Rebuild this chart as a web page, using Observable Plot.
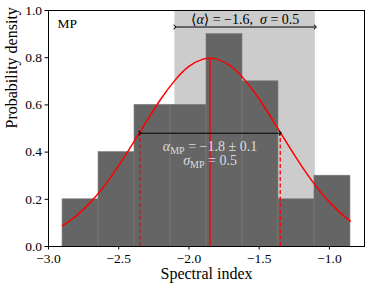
<!DOCTYPE html>
<html>
<head>
<meta charset="utf-8">
<script src="https://cdn.jsdelivr.net/npm/d3@7"></script>
<script src="https://cdn.jsdelivr.net/npm/@observablehq/plot@0.6"></script>
<style>
  html, body { margin: 0; padding: 0; background: white; }
  #chart svg { display: block; }
  #chart svg, #chart svg text, #chart svg tspan { font-family: "Liberation Serif", "DejaVu Serif", serif !important; }
</style>
</head>
<body>
<div id="chart"></div>
<script>
// Histogram bins (density)
const binEdges = [-2.9, -2.64375, -2.3875, -2.13125, -1.875, -1.61875, -1.3625, -1.10625, -0.85];
const binHeights = [0.2, 0.4, 0.6, 0.6, 0.9, 0.7, 0.2, 0.3];

// Shaded band: <alpha> = -1.6, sigma = 0.5
const bandLo = -2.1;
const bandHi = -1.1;

// Fitted Gaussian curve
const curveX = [-2.9, -2.8, -2.7, -2.6, -2.5, -2.4, -2.3, -2.2, -2.1, -2.0, -1.9, -1.85, -1.8, -1.7, -1.6, -1.5, -1.4, -1.3, -1.2, -1.1, -1.0, -0.9, -0.85];
const curveY = [0.088, 0.131, 0.188, 0.259, 0.343, 0.436, 0.532, 0.625, 0.704, 0.763, 0.794, 0.798, 0.794, 0.763, 0.704, 0.625, 0.532, 0.436, 0.343, 0.259, 0.188, 0.131, 0.108];

// Fit markers
const fitMean = -1.85;
const fitPeak = 0.798;
const fitSigmaX = [-2.35, -1.35];
const fitSigmaY = 0.484;

// Arrows
const topArrowY = 0.93;
const midArrowY = 0.48;

// Tick labels
const xTicks = [-3.0, -2.5, -2.0, -1.5, -1.0];
const yTicks = [0.0, 0.2, 0.4, 0.6, 0.8, 1.0];

// Annotation texts
const topLabel = "⟨α⟩ = −1.6,  σ = 0.5";
const fitLabel1 = "α_MP = −1.8 ± 0.1";
const fitLabel2 = "σ_MP = 0.5";
const panelLabel = "MP";

const bars = binHeights.map((h, i) => ({x1: binEdges[i], x2: binEdges[i + 1], y: h}));
const curve = curveX.map((x, i) => ({x, y: curveY[i]}));
const fmt = d => d.toFixed(1).replace("-", "−");

const plot = Plot.plot({
  width: 374,
  height: 289,
  marginLeft: 48,
  marginRight: 10,
  marginTop: 10,
  marginBottom: 43,
  style: {fontFamily: "'Liberation Serif', serif", fontSize: "13px", background: "white", color: "black"},
  x: {domain: [-3.0, -0.75]},
  y: {domain: [0, 1]},
  marks: [
    Plot.rect([{x1: bandLo, x2: bandHi}], {x1: "x1", x2: "x2", y1: 0, y2: 1, fill: "#cccccc"}),
    Plot.rect(bars, {x1: "x1", x2: "x2", y1: 0, y2: "y", fill: "#656565", stroke: "#7a7a7a", strokeWidth: 0.6}),
    Plot.line(curve, {x: "x", y: "y", stroke: "#ff0000", strokeWidth: 1.5, curve: "natural"}),
    Plot.ruleX([fitMean], {y1: 0, y2: fitPeak, stroke: "#ff0000", strokeWidth: 1.3}),
    Plot.ruleX(fitSigmaX, {y1: 0, y2: fitSigmaY, stroke: "#ff0000", strokeWidth: 1.3, strokeDasharray: "4,2.5"}),
    Plot.link([{x1: bandLo, x2: bandHi, y: topArrowY}], {x1: "x1", x2: "x2", y1: "y", y2: "y", stroke: "black", strokeWidth: 1, markerStart: "arrow", markerEnd: "arrow"}),
    Plot.link([{x1: fitSigmaX[0], x2: fitSigmaX[1], y: midArrowY}], {x1: "x1", x2: "x2", y1: "y", y2: "y", stroke: "black", strokeWidth: 1, markerStart: "arrow", markerEnd: "arrow"}),
    Plot.text([topLabel], {x: -1.6, y: 0.962, text: d => d, fontSize: 14, fill: "black", textAnchor: "middle", lineAnchor: "middle"}),
    Plot.text([fitLabel1], {x: fitMean, y: 0.424, text: d => d, fontSize: 14, fill: "#dddddd", textAnchor: "middle", lineAnchor: "middle"}),
    Plot.text([fitLabel2], {x: fitMean, y: 0.364, text: d => d, fontSize: 14, fill: "#dddddd", textAnchor: "middle", lineAnchor: "middle"}),
    Plot.text([panelLabel], {frameAnchor: "top-left", dx: 9, dy: 13, text: d => d, fontSize: 13.5, fill: "black", textAnchor: "start", lineAnchor: "middle"}),
    Plot.frame({stroke: "black", strokeWidth: 1}),
    Plot.axisX(xTicks, {tickSize: 3.5, tickPadding: 3, tickFormat: fmt, fontSize: 13.5, label: null, stroke: "black"}),
    Plot.axisY(yTicks, {tickSize: 3.5, tickPadding: 3, tickFormat: d => d.toFixed(1), fontSize: 13.5, label: null, stroke: "black"}),
    Plot.text(["Spectral index"], {frameAnchor: "bottom", dy: 27, text: d => d, fontSize: 16, fill: "black", lineAnchor: "middle"}),
    Plot.text(["Probability density"], {frameAnchor: "left", dx: -37, rotate: -90, text: d => d, fontSize: 16, fill: "black", lineAnchor: "middle"})
  ]
});

// Math styling: italic greek letters and subscripts
const svgNS = "http://www.w3.org/2000/svg";
plot.querySelectorAll("text").forEach(t => {
  const s = t.textContent;
  if (!(s === topLabel || s === fitLabel1 || s === fitLabel2)) return;
  while (t.firstChild) t.removeChild(t.firstChild);
  const re = /(α|σ|_MP)/g;
  let last = 0, m, shifted = false;
  const add = (str, opts = {}) => {
    if (!str) return;
    const sp = document.createElementNS(svgNS, "tspan");
    sp.textContent = str;
    if (opts.italic) sp.setAttribute("font-style", "italic");
    if (opts.sub) { sp.setAttribute("font-size", "10"); sp.setAttribute("dy", "3"); shifted = true; }
    else if (shifted) { sp.setAttribute("dy", "-3"); shifted = false; }
    t.appendChild(sp);
  };
  while ((m = re.exec(s)) !== null) {
    add(s.slice(last, m.index));
    if (m[0] === "_MP") add("MP", {sub: true});
    else add(m[0], {italic: true});
    last = m.index + m[0].length;
  }
  add(s.slice(last));
});

document.getElementById("chart").appendChild(plot);
</script>
</body>
</html>
